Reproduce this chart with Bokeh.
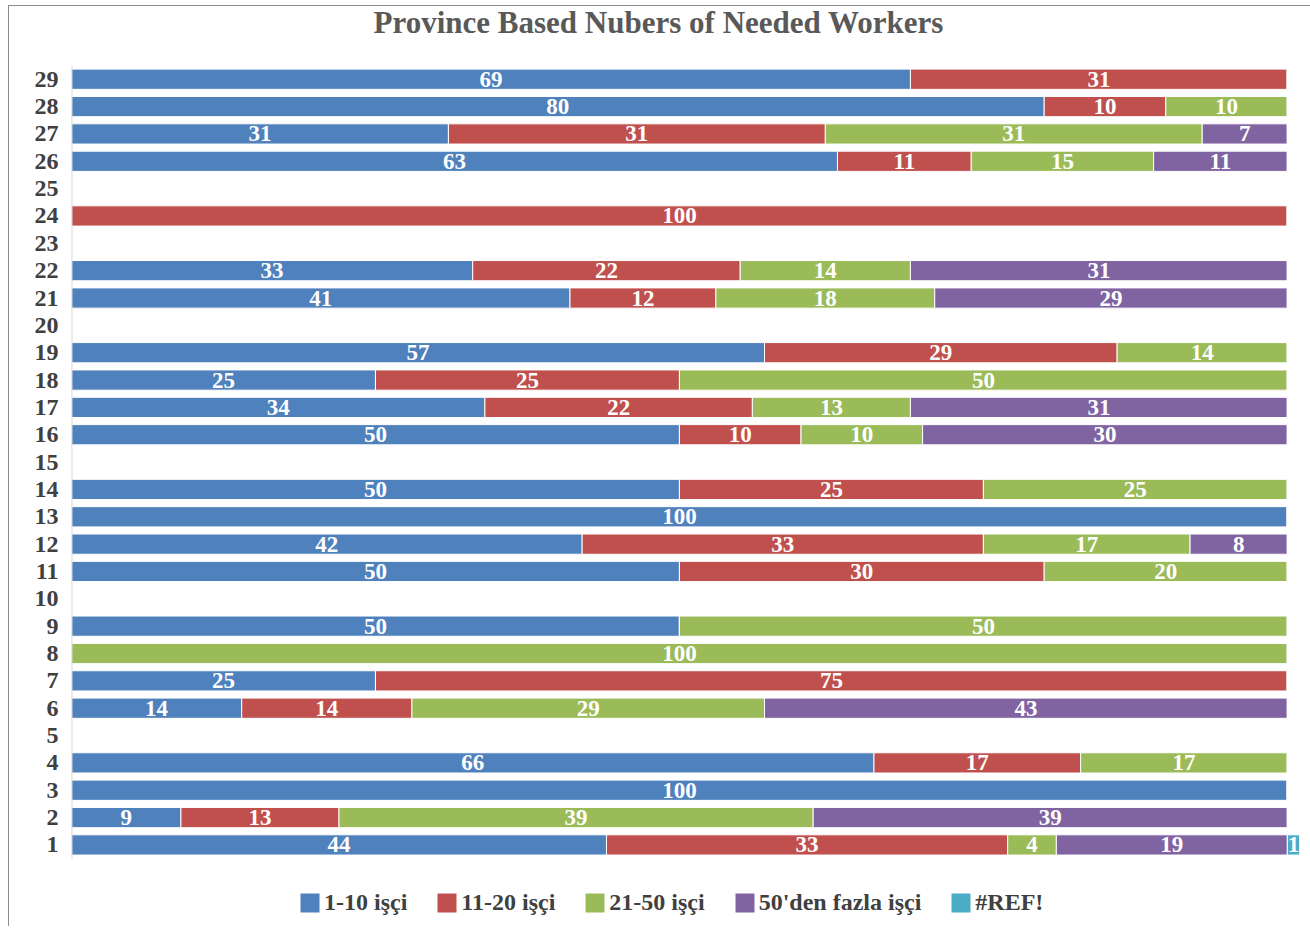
from bokeh.plotting import figure
from bokeh.models import ColumnDataSource, Range1d, Legend, LegendItem, FixedTicker, Label
from bokeh.core.properties import value
from bokeh.embed import file_html
from bokeh.resources import INLINE

provinces = list(range(1, 30))
series_names = ["1-10 işçi", "11-20 işçi", "21-50 işçi", "50'den fazla işçi", "#REF!"]
colors = ["#4F81BD", "#C0504D", "#9BBB59", "#8064A2", "#4BACC6"]
title_text = "Province Based Nubers of Needed Workers"

w_1_10 = [44, 9, 100, 66, 0, 14, 25, 0, 50, 0, 50, 42, 100, 50, 0,
          50, 34, 25, 57, 0, 41, 33, 0, 0, 0, 63, 31, 80, 69]
w_11_20 = [33, 13, 0, 17, 0, 14, 75, 0, 0, 0, 30, 33, 0, 25, 0,
           10, 22, 25, 29, 0, 12, 22, 0, 100, 0, 11, 31, 10, 31]
w_21_50 = [4, 39, 0, 17, 0, 29, 0, 100, 50, 0, 20, 17, 0, 25, 0,
           10, 13, 50, 14, 0, 18, 14, 0, 0, 0, 15, 31, 10, 0]
w_50plus = [19, 39, 0, 0, 0, 43, 0, 0, 0, 0, 0, 8, 0, 0, 0,
            30, 31, 0, 0, 0, 29, 31, 0, 0, 0, 11, 7, 0, 0]
w_ref = [1, 0, 0, 0, 0, 0, 0, 0, 0, 0, 0, 0, 0, 0, 0,
         0, 0, 0, 0, 0, 0, 0, 0, 0, 0, 0, 0, 0, 0]

keys = ["s1", "s2", "s3", "s4", "s5"]
all_series = [w_1_10, w_11_20, w_21_50, w_50plus, w_ref]

data = {"prov": provinces}
for k, s in zip(keys, all_series):
    data[k] = s
source = ColumnDataSource(data)

FONT = "Liberation Serif"

# y range extends below (legend) and above (title) the bar rows
p = figure(width=1302, height=921, y_range=Range1d(-1.8, 31.66),
           x_range=Range1d(0, 101), output_backend="svg", toolbar_location=None,
           min_border_left=62, min_border_right=12, min_border_top=0, min_border_bottom=6)
p.styles = {"margin-left": "8px", "margin-top": "5px",
            "border-left": "1px solid #8c8c8c", "border-top": "1px solid #8c8c8c"}

renderers = p.hbar_stack(keys, y="prov", height=0.74, color=colors, source=source,
                         line_color="white", line_width=1)

# y axis line along the bar rows only
p.segment(x0=[0], y0=[0.5], x1=[0], y1=[29.5], line_color="#D9D9D9", line_width=2)

# data labels
lx, ly, lt = [], [], []
for i, prov in enumerate(provinces):
    cum = 0
    for s in all_series:
        v = s[i]
        if v > 0:
            lx.append(cum + v / 2)
            ly.append(prov)
            lt.append(str(v))
        cum += v
lab_src = ColumnDataSource(dict(x=lx, y=ly, t=lt))
p.text(x="x", y="y", text="t", source=lab_src, text_align="center", text_baseline="middle",
       text_color="white", text_font=value(FONT), text_font_style="bold", text_font_size="23px")

title = Label(x=48.3, y=31.07, text=title_text, text_align="center", text_baseline="middle",
              text_font=FONT, text_font_style="bold", text_font_size="31px",
              text_color="#595959")
p.add_layout(title)

p.xaxis.visible = False
p.xgrid.grid_line_color = None
p.ygrid.grid_line_color = None
p.yaxis.ticker = FixedTicker(ticks=provinces)
p.yaxis.axis_line_color = None
p.yaxis.major_tick_line_color = None
p.yaxis.minor_tick_line_color = None
p.yaxis.major_tick_out = 0
p.yaxis.major_label_standoff = 13
p.yaxis.major_label_text_font = FONT
p.yaxis.major_label_text_font_style = "bold"
p.yaxis.major_label_text_font_size = "24px"
p.yaxis.major_label_text_color = "#404040"
p.outline_line_color = None

items = [LegendItem(label=n, renderers=[r]) for n, r in zip(series_names, renderers)]
legend = Legend(items=items, orientation="horizontal", location=(226, 5),
                glyph_width=25, glyph_height=25, label_standoff=2, spacing=27,
                margin=0, padding=5, border_line_color=None, background_fill_alpha=0,
                label_text_font=FONT, label_text_font_style="bold",
                label_text_font_size="24px", label_text_color="#404040")
p.add_layout(legend)

open("out.html", "w").write(file_html(p, INLINE))
